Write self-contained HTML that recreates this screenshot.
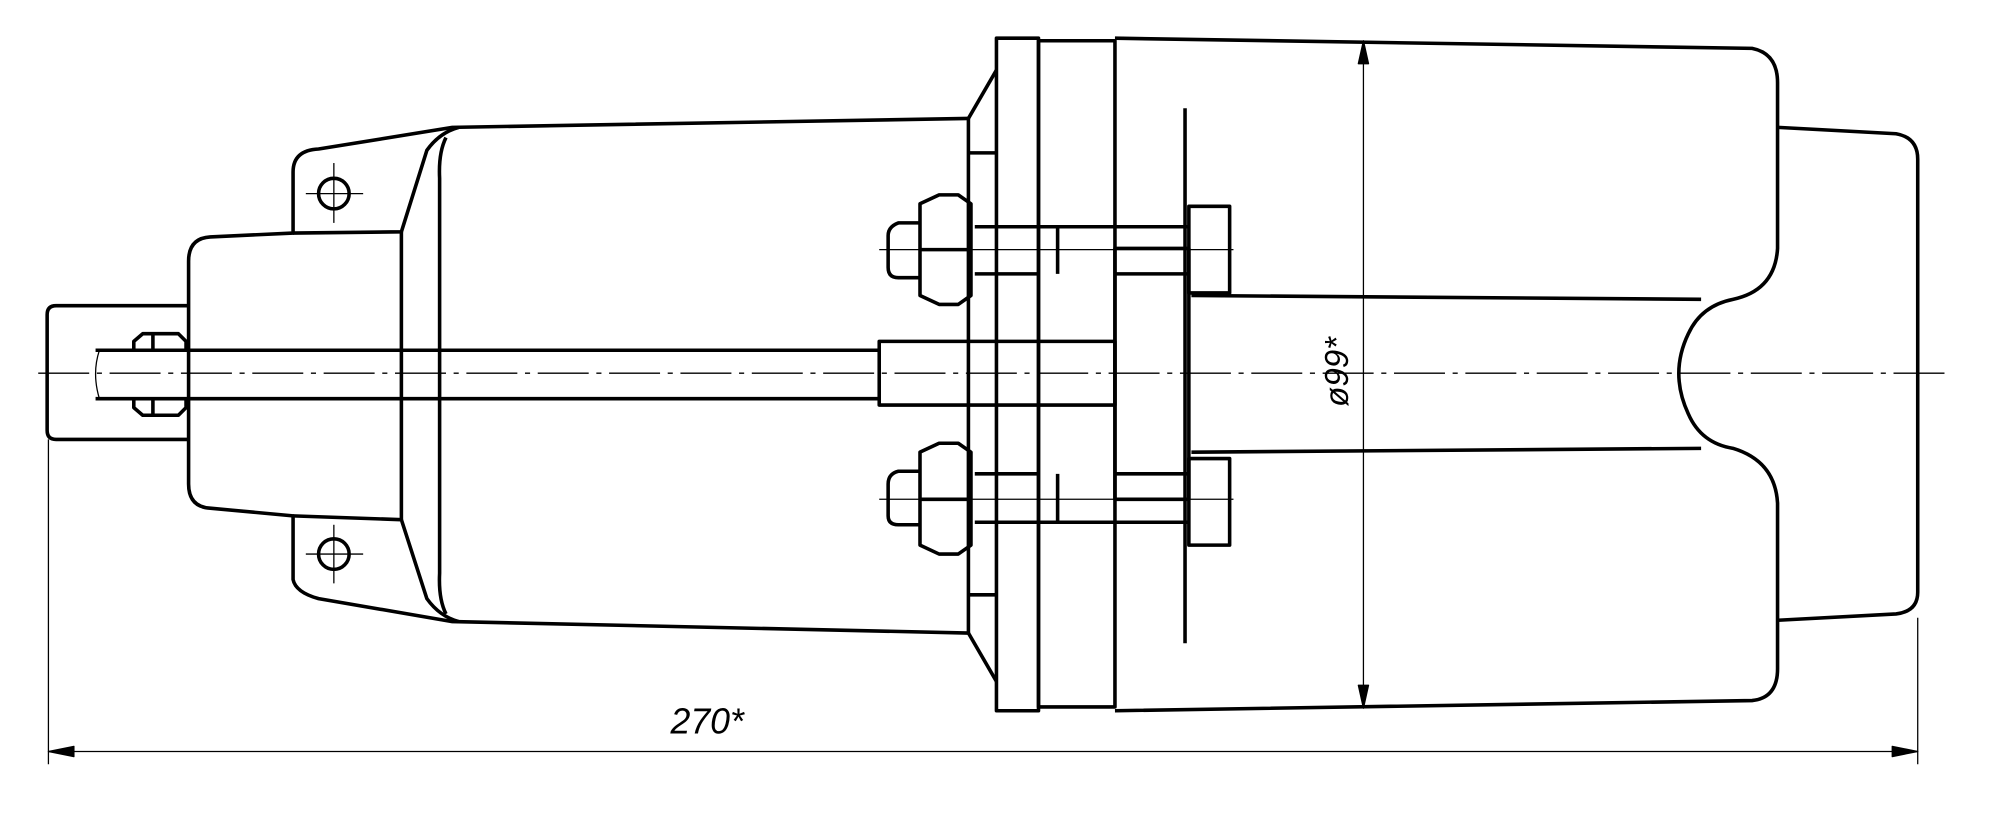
<!DOCTYPE html>
<html><head><meta charset="utf-8"><style>html,body{margin:0;padding:0;background:#fff}svg{display:block}</style></head><body>
<svg width="1998" height="819" viewBox="0 0 1568 643" preserveAspectRatio="none" xmlns="http://www.w3.org/2000/svg">
<g fill="none" stroke="#000" stroke-width="2.8" stroke-linejoin="round">
<line x1="30" y1="293" x2="1530" y2="293" stroke-width="1" stroke-dasharray="40,6,4,6"/>
<path d="M148 240 H44 Q37 240 37 247 V338 Q37 345 44 345 H148"/>
<path d="M78 275 Q72 293 78 313" stroke-width="1"/>
<line x1="75" y1="275" x2="690" y2="275"/><line x1="75" y1="313" x2="690" y2="313"/>
<rect x="690" y="268" width="185" height="50"/>
<path d="M105 275 V268 L112 262 H140 L146 268 V275 M105 313 V320 L112 326 H140 L146 320 V313 M120 262 V275 M120 313 V326"/>
<path d="M148 205 Q148 187 165 186 L230 183 V135 Q230 118 250 117 L355 100 L760 93 M148 205 V380 Q148 398 165 399 L230 405 V455 Q232 465 250 470 L355 488 L760 497"/>
<path d="M230 183 L315 182 L335 118 Q345 104 360 100 M230 405 L315 408 L335 470 Q345 484 360 488"/>
<line x1="315" y1="182" x2="315" y2="408"/>
<path d="M350 108 Q344 120 345 140 V450 Q344 470 350 482"/>
<circle cx="262" cy="152" r="12"/><circle cx="262" cy="435" r="12"/>
<g stroke-width="1"><line x1="240" y1="152" x2="285" y2="152"/><line x1="262" y1="128" x2="262" y2="175"/><line x1="240" y1="435" x2="285" y2="435"/><line x1="262" y1="412" x2="262" y2="458"/></g>
<path d="M760 93 L782 55 M760 497 L782 535"/>
<path d="M760 93 V120 H782 M760 497 V467 H782 M760 120 V467"/>
<rect x="782" y="30" width="33" height="528"/>
<rect x="815" y="32" width="60" height="523"/>
<path d="M875 30 L1375 38 Q1395 42 1395 65 V195 Q1393 228 1360 235 Q1335 240 1325 262 Q1310 293 1325 325 Q1335 348 1360 352 Q1393 362 1395 395 V525 Q1395 548 1375 550 L875 558"/>
<line x1="935" y1="232" x2="1335" y2="235"/><line x1="935" y1="355" x2="1335" y2="352"/>
<line x1="930" y1="85" x2="930" y2="505"/>
<path d="M1395 100 L1488 105 Q1505 108 1505 125 V465 Q1505 480 1488 482 L1395 487"/>
<rect x="875" y="195" width="58" height="197"/>
<rect x="933" y="162" width="32" height="68"/><rect x="933" y="360" width="32" height="68"/>
<path d="M765 178 H933 M765 215 H815 M875 215 H933 M830 178 V215 M765 372 H815 M875 372 H933 M765 410 H933 M830 372 V410"/>
<path d="M722 160 L737 153 H752 L762 160 V232 L752 239 H737 L722 232 Z M722 196 H762"/>
<path d="M722 355 L737 348 H752 L762 355 V428 L752 435 H737 L722 428 Z M722 392 H762"/>
<path d="M722 175 H705 Q697 178 697 185 V210 Q697 218 705 218 H722 M722 370 H705 Q697 372 697 380 V405 Q697 412 705 412 H722"/>
<g stroke-width="1"><line x1="690" y1="196" x2="968" y2="196"/><line x1="690" y1="392" x2="968" y2="392"/></g>
<g stroke-width="1">
<line x1="1070" y1="32" x2="1070" y2="556"/>
<line x1="38" y1="345" x2="38" y2="600"/><line x1="1505" y1="485" x2="1505" y2="600"/>
<line x1="38" y1="590" x2="1505" y2="590"/>
</g>
<path d="M1070 32 L1066 50 L1074 50 Z M1070 556 L1066 538 L1074 538 Z M38 590 L58 586 L58 594 Z M1505 590 L1485 586 L1485 594 Z" fill="#000" stroke-width="1"/>
</g>
<text x="0" y="0" transform="translate(1058,292) rotate(-90)" text-anchor="middle" font-family="Liberation Sans, sans-serif" font-style="italic" font-size="26" fill="#000">ø99*</text>
<text x="555" y="576" text-anchor="middle" font-family="Liberation Sans, sans-serif" font-style="italic" font-size="28" fill="#000">270*</text>
</svg>
</body></html>
